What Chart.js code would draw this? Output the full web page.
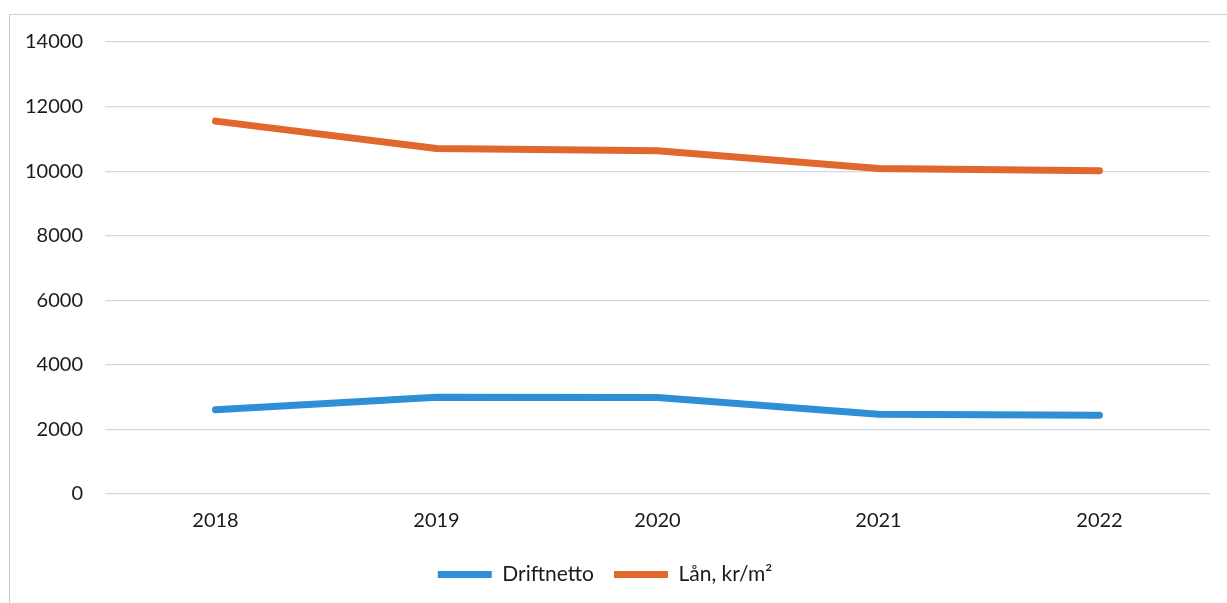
<!DOCTYPE html>
<html>
<head>
<meta charset="utf-8">
<script src="https://cdn.jsdelivr.net/npm/chart.js@4.4.1/dist/chart.umd.min.js"></script>
<style>
  html, body { margin: 0; padding: 0; background: #fff; }
  #wrap { position: relative; width: 1227px; height: 603px; }
  #frame { position: absolute; left: 9px; top: 14px; width: 1240px; height: 620px; border-left: 1px solid #c8c8c8; border-top: 1px solid #d0d0d0; pointer-events: none; }
  canvas { position: absolute; left: 0; top: 0; }
</style>
</head>
<body>
<div id="wrap">
  <canvas id="c" width="1227" height="603"></canvas>
  <div id="frame"></div>
</div>
<script>
const categories = ["2018", "2019", "2020", "2021", "2022"];
const driftnetto = [2610, 3000, 2990, 2470, 2440];
const lan = [11550, 10700, 10630, 10080, 10010];
const yTicks = [0, 2000, 4000, 6000, 8000, 10000, 12000, 14000];
const seriesNames = ["Driftnetto", "Lån, kr/m²"];

const FONT = "Lato, 'Open Sans', sans-serif";

new Chart(document.getElementById("c"), {
  type: "line",
  data: {
    labels: categories,
    datasets: [
      {
        label: seriesNames[0],
        data: driftnetto,
        borderColor: "#2f8fd6",
        backgroundColor: "#2f8fd6",
        borderWidth: 7,
        borderCapStyle: "round",
        borderJoinStyle: "round",
        pointRadius: 0,
        tension: 0
      },
      {
        label: seriesNames[1],
        data: lan,
        borderColor: "#e2672c",
        backgroundColor: "#e2672c",
        borderWidth: 7,
        borderCapStyle: "round",
        borderJoinStyle: "round",
        pointRadius: 0,
        tension: 0
      }
    ]
  },
  options: {
    responsive: false,
    animation: false,
    layout: { padding: { left: 0, right: 17, top: 42, bottom: 8 } },
    plugins: {
      tooltip: { enabled: false },
      legend: {
        position: "bottom",
        labels: {
          usePointStyle: true,
          pointStyle: "line",
          pointStyleWidth: 54,
          padding: 20,
          color: "#1a1a1a",
          font: { family: FONT, size: 21 }
        }
      }
    },
    scales: {
      x: {
        offset: true,
        grid: { display: false, drawTicks: false },
        border: { display: false },
        ticks: { color: "#1a1a1a", font: { family: FONT, size: 20 }, padding: 15 },
        afterFit: (s) => { s.height = 50; }
      },
      y: {
        min: 0,
        max: 14000,
        afterBuildTicks: (s) => { s.ticks = yTicks.map(v => ({ value: v })); },
        grid: { color: "#d6d6de", lineWidth: 1.2, drawTicks: false },
        border: { display: false },
        ticks: {
          color: "#1a1a1a",
          font: { family: FONT, size: 20 },
          padding: 22,
          callback: (v) => String(v)
        },
        afterFit: (s) => { s.width = 105; }
      }
    }
  }
});
</script>
</body>
</html>
